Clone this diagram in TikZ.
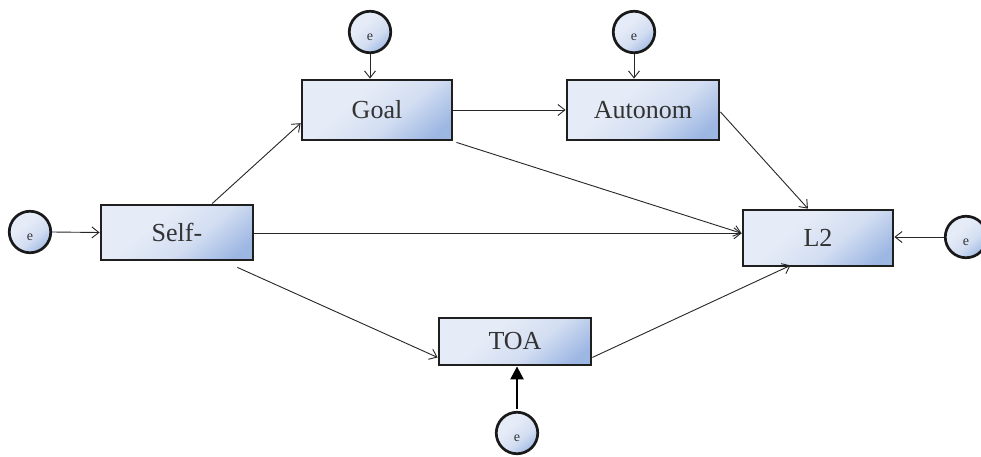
\documentclass[tikz,border=0pt]{standalone}
\usepackage{fontspec}
\setmainfont{Liberation Serif}
\usetikzlibrary{arrows.meta,calc}
\definecolor{boxlight}{HTML}{E6ECF7}
\definecolor{boxmid}{HTML}{D3DEF2}
\definecolor{boxdark}{HTML}{9DB7E3}
\definecolor{txt}{HTML}{333333}
\pgfdeclareverticalshading{boxshade}{100bp}{color(0bp)=(boxdark); color(22bp)=(boxdark); color(42bp)=(boxmid); color(62bp)=(boxlight); color(100bp)=(boxlight)}
\tikzset{
  varbox/.style={draw=black!88, line width=2.8pt, inner sep=0pt,
    shading=boxshade, shading angle=40,
    font=\fontsize{26}{28}\selectfont, text=txt},
  errc/.style={circle, draw=black!90, line width=2.7pt, minimum size=41.5pt, inner sep=0pt,
    shading=boxshade, shading angle=40,
    label={[font=\fontsize{14}{16}\selectfont, text=txt, yshift=-5.5pt]center:e}},
  conn/.style={line width=0.9pt, draw=black!85, -{Straight Barb[length=7pt,width=11pt,line width=0.9pt]}},
  thickconn/.style={line width=2.4pt, draw=black, -{Triangle[length=13pt,width=13pt]}}
}
\begin{document}
\begin{tikzpicture}[x=1pt,y=-1pt]
\clip (0,0) rectangle (981,457);
\fill[white] (0,0) rectangle (981,457);
% boxes
\node[varbox, minimum width=150pt, minimum height=60pt] (goal) at (377,110) {Goal};
\node[varbox, minimum width=152pt, minimum height=60pt] (auto) at (643,110) {Autonom};
\node[varbox, minimum width=152pt, minimum height=55pt] (self) at (177,232.5) {Self-};
\node[varbox, minimum width=150pt, minimum height=56pt] (l2) at (818,238) {L2};
\node[varbox, minimum width=152pt, minimum height=47pt] (toa) at (515,341.5) {TOA};
% error circles
\node[errc] (eG) at (370,32) {};
\node[errc] (eA) at (634,32) {};
\node[errc] (eS) at (30,232) {};
\node[errc] (eL) at (966,237) {};
\node[errc] (eT) at (517,433) {};
% helper points
\coordinate (l2in) at ($(l2.north west)!0.42!(l2.south west)$);
% connectors
\draw[conn] (eG.south) -- (eG.south |- goal.north);
\draw[conn] (eA.south) -- (eA.south |- auto.north);
\draw[conn] (eS.east) -- (self.west);
\draw[conn] (eL.west) -- (eL.west -| l2.east);
\draw[thickconn, shorten <=2pt] (eT.north) -- (eT.north |- toa.south);
\draw[conn] (goal.east) -- (auto.west);
\draw[conn] ($(self.north west)!0.727!(self.north east)$) -- ($(goal.north west)!0.71!(goal.south west)$);
\draw[conn] ($(goal.south east)+(3,1)$) -- (l2in);
\draw[conn] (self.east |- l2in) -- (l2in);
\draw[conn] ($(auto.north east)!0.53!(auto.south east)$) -- ($(l2.north west)!0.434!(l2.north east)$);
\draw[conn] ($(self.south west)!0.89!(self.south east)+(0,6)$) -- ($(toa.north west)!0.82!(toa.south west)$);
\draw[conn] ($(toa.north east)!0.82!(toa.south east)$) -- ($(l2.south west)!0.32!(l2.south east)+(0,-2)$);
\end{tikzpicture}
\end{document}
